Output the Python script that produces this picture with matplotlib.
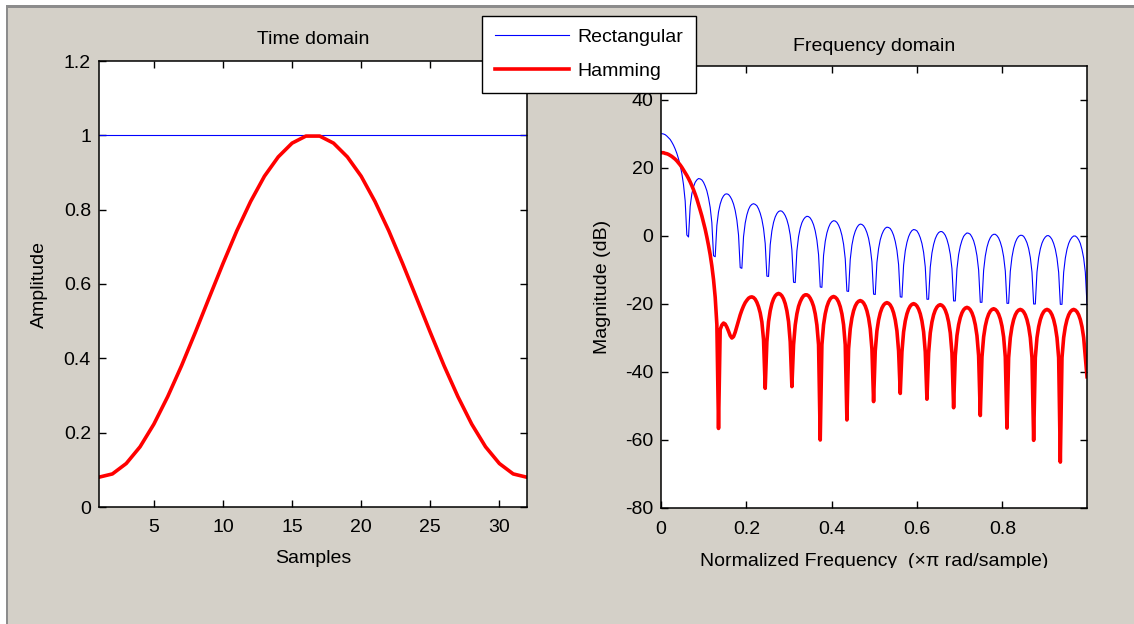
import numpy as np
import matplotlib
matplotlib.use("Agg")
import matplotlib.pyplot as plt
from matplotlib.patches import Rectangle
from matplotlib.lines import Line2D
from matplotlib.transforms import Bbox, TransformedBbox

plt.rcParams['font.family'] = ['Liberation Sans', 'DejaVu Sans']
plt.rcParams['axes.unicode_minus'] = False

# ---- data ----
names = ['Rectangular', 'Hamming']

# time domain, 32 samples
samples = np.arange(1, 33)
rect_time = [1.0, 1.0, 1.0, 1.0, 1.0, 1.0, 1.0, 1.0, 1.0, 1.0, 1.0, 1.0, 1.0, 1.0, 1.0, 1.0,
             1.0, 1.0, 1.0, 1.0, 1.0, 1.0, 1.0, 1.0, 1.0, 1.0, 1.0, 1.0, 1.0, 1.0, 1.0, 1.0]
hamm_time = [0.08, 0.089, 0.117, 0.162, 0.223, 0.297, 0.380, 0.470, 0.563, 0.655, 0.743,
             0.822, 0.890, 0.942, 0.979, 0.998, 0.998, 0.979, 0.942, 0.890, 0.822, 0.743,
             0.655, 0.563, 0.470, 0.380, 0.297, 0.223, 0.162, 0.117, 0.089, 0.08]

# frequency domain, 256 bins over [0, pi)
freq = (np.arange(256) + 0.5) / 256
rect_db = [
    30.1, 30.0, 29.8, 29.4, 28.9, 28.4, 27.6, 26.7, 25.6, 24.3, 22.7, 20.8, 18.4, 15.1, 10.3, 0.3,
    -0.3, 8.7, 12.4, 14.5, 15.8, 16.5, 16.9, 16.8, 16.5, 15.8, 14.7, 13.3, 11.2, 8.4, 3.9, -5.8,
    -6.1, 3.1, 7.1, 9.4, 10.9, 11.8, 12.3, 12.4, 12.2, 11.6, 10.7, 9.4, 7.5, 4.7, 0.3, -9.3,
    -9.5, -0.2, 3.8, 6.2, 7.8, 8.8, 9.3, 9.5, 9.3, 8.9, 8.0, 6.7, 4.9, 2.2, -2.2, -11.8,
    -11.9, -2.6, 1.5, 4.0, 5.6, 6.6, 7.2, 7.4, 7.3, 6.8, 6.0, 4.8, 3.0, 0.3, -4.1, -13.6,
    -13.7, -4.4, -0.2, 2.3, 3.9, 4.9, 5.5, 5.8, 5.7, 5.3, 4.5, 3.3, 1.5, -1.2, -5.5, -15.0,
    -15.1, -5.7, -1.6, 0.9, 2.5, 3.6, 4.2, 4.5, 4.4, 4.0, 3.2, 2.0, 0.2, -2.4, -6.7, -16.2,
    -16.3, -6.9, -2.7, -0.2, 1.4, 2.5, 3.2, 3.5, 3.4, 3.0, 2.2, 1.0, -0.7, -3.4, -7.6, -17.1,
    -17.2, -7.8, -3.7, -1.1, 0.5, 1.6, 2.3, 2.6, 2.5, 2.2, 1.4, 0.2, -1.6, -4.2, -8.4, -17.9,
    -18.0, -8.6, -4.4, -1.9, -0.2, 0.9, 1.6, 1.9, 1.8, 1.5, 0.7, -0.5, -2.2, -4.8, -9.1, -18.6,
    -18.6, -9.2, -5.0, -2.5, -0.8, 0.3, 1.0, 1.3, 1.3, 0.9, 0.2, -1.0, -2.8, -5.4, -9.6, -19.1,
    -19.1, -9.7, -5.5, -3.0, -1.3, -0.1, 0.5, 0.9, 0.8, 0.5, -0.3, -1.4, -3.2, -5.8, -10.0, -19.5,
    -19.5, -10.1, -5.9, -3.3, -1.6, -0.5, 0.2, 0.5, 0.5, 0.1, -0.6, -1.8, -3.5, -6.1, -10.3, -19.8,
    -19.8, -10.4, -6.2, -3.6, -1.9, -0.8, -0.1, 0.2, 0.2, -0.1, -0.9, -2.0, -3.7, -6.3, -10.6, -20.0,
    -20.0, -10.6, -6.4, -3.8, -2.1, -1.0, -0.3, 0.1, 0.1, -0.3, -1.0, -2.2, -3.9, -6.5, -10.7, -20.1,
    -20.1, -10.7, -6.5, -3.9, -2.2, -1.1, -0.4, 0.0, 0.0, -0.4, -1.1, -2.2, -4.0, -6.5, -10.7, -20.2,
]
hamm_db = [
    24.5, 24.5, 24.3, 24.2, 24.0, 23.7, 23.4, 23.0, 22.6, 22.1, 21.5, 20.9, 20.2, 19.4, 18.6, 17.8,
    16.9, 15.9, 14.8, 13.6, 12.3, 10.9, 9.3, 7.6, 5.9, 4.0, 2.0, -0.3, -2.8, -5.5, -8.8, -12.8,
    -18.0, -26.0, -56.6, -27.5, -26.2, -25.6, -25.9, -26.8, -28.0, -29.3, -30.0, -29.6, -28.3, -26.6, -24.8, -23.2,
    -21.8, -20.6, -19.6, -18.9, -18.3, -18.0, -17.9, -18.1, -18.6, -19.5, -20.8, -22.6, -25.3, -30.5, -44.8, -31.1,
    -25.2, -22.0, -19.9, -18.5, -17.6, -17.1, -16.9, -17.1, -17.6, -18.5, -19.9, -22.0, -25.2, -31.1, -44.3, -32.0,
    -26.2, -22.9, -20.7, -19.3, -18.3, -17.6, -17.3, -17.3, -17.6, -18.3, -19.3, -20.7, -22.9, -26.2, -32.0, -60.0,
    -32.0, -26.1, -22.9, -20.8, -19.4, -18.5, -18.0, -17.8, -18.0, -18.5, -19.4, -20.8, -22.9, -26.1, -32.0, -54.1,
    -33.2, -27.3, -24.1, -22.0, -20.6, -19.7, -19.2, -19.0, -19.2, -19.7, -20.6, -22.0, -24.1, -27.3, -33.2, -48.7,
    -33.8, -27.9, -24.7, -22.6, -21.2, -20.3, -19.8, -19.6, -19.8, -20.3, -21.2, -22.6, -24.7, -27.9, -33.8, -46.3,
    -34.1, -28.2, -25.0, -22.9, -21.5, -20.6, -20.1, -19.9, -20.1, -20.6, -21.5, -22.9, -25.0, -28.2, -34.1, -48.0,
    -34.4, -28.5, -25.3, -23.2, -21.8, -20.9, -20.4, -20.2, -20.4, -20.9, -21.8, -23.2, -25.3, -28.5, -34.4, -50.5,
    -35.2, -29.3, -26.1, -24.0, -22.6, -21.7, -21.2, -21.0, -21.2, -21.7, -22.6, -24.0, -26.1, -29.3, -35.2, -52.8,
    -35.6, -29.7, -26.5, -24.4, -23.0, -22.1, -21.6, -21.4, -21.6, -22.1, -23.0, -24.4, -26.5, -29.7, -35.6, -56.5,
    -35.8, -29.9, -26.7, -24.6, -23.2, -22.3, -21.8, -21.6, -21.8, -22.3, -23.2, -24.6, -26.7, -29.9, -35.8, -60.1,
    -35.8, -29.9, -26.7, -24.6, -23.2, -22.3, -21.8, -21.6, -21.8, -22.3, -23.2, -24.6, -26.7, -29.9, -35.8, -66.5,
    -35.8, -29.9, -26.7, -24.6, -23.2, -22.3, -21.8, -21.6, -21.8, -22.3, -23.2, -24.6, -26.7, -29.9, -35.8, -41.4,
]

t_xticks = [5, 10, 15, 20, 25, 30]
t_yticks = [0, 0.2, 0.4, 0.6, 0.8, 1.0, 1.2]
t_ylabels = ['0', '0.2', '0.4', '0.6', '0.8', '1', '1.2']
f_xticks = [0, 0.2, 0.4, 0.6, 0.8]
f_xlabels = ['0', '0.2', '0.4', '0.6', '0.8']
f_yticks = [-80, -60, -40, -20, 0, 20, 40]

# ---- figure ----
W, H = 1134, 624
BG = '#d4d0c8'
BLUE = '#0000ff'
RED = '#ff0000'
FS = 14

fig = plt.figure(figsize=(W / 100, H / 100), dpi=100, facecolor=BG)

def px_box(l, t, r, b):
    # pixel box (top-left origin) -> figure fraction rect
    return [l / W, 1 - b / H, (r - l) / W, (b - t) / H]

# window frame look
fig.add_artist(Rectangle((0, 1 - 5 / H), 1, 5 / H, transform=fig.transFigure,
                         facecolor='white', edgecolor='none'))
fig.add_artist(Rectangle((0, 0), 6 / W, 1, transform=fig.transFigure,
                         facecolor='white', edgecolor='none'))
fig.add_artist(Rectangle((6 / W, 1 - 7.5 / H), 1, 2.5 / H, transform=fig.transFigure,
                         facecolor='#8c8c8c', edgecolor='none'))
fig.add_artist(Rectangle((6 / W, 0), 2 / W, 1 - 5 / H, transform=fig.transFigure,
                         facecolor='#8c8c8c', edgecolor='none'))

ax1 = fig.add_axes(px_box(98.6, 61, 527, 507))
ax2 = fig.add_axes(px_box(661, 66, 1087, 508))

ax1.plot(samples, rect_time, color=BLUE, lw=0.8)
ax1.plot(samples, hamm_time, color=RED, lw=2.6)
ax2.plot(freq, rect_db, color=BLUE, lw=0.8)
ax2.plot(freq, hamm_db, color=RED, lw=2.6)

ax1.set_xlim(1, 32)
ax1.set_ylim(0, 1.2)
ax1.set_xticks(t_xticks)
ax1.set_yticks(t_yticks)
ax1.set_yticklabels(t_ylabels)

ax2.set_xlim(0, freq[-1])
ax2.set_ylim(-80, 50)
ax2.set_xticks(f_xticks)
ax2.set_xticklabels(f_xlabels)
ax2.set_yticks(f_yticks)

for ax in (ax1, ax2):
    ax.set_facecolor('white')
    for s in ax.spines.values():
        s.set_linewidth(1.1)
        s.set_color('black')
    ax.tick_params(direction='in', length=5, width=1, top=True, right=True,
                   labelsize=FS, colors='black')
    ax.tick_params(axis='x', pad=9)
    ax.tick_params(axis='y', pad=5.5)

ax1.set_title('Time domain', fontsize=FS, pad=12.5)
ax2.set_title('Frequency domain', fontsize=FS, pad=10.5)
ax1.set_xlabel('Samples', fontsize=FS, labelpad=9.5)
ax1.set_ylabel('Amplitude', fontsize=FS, labelpad=11)
ax2.set_xlabel('Normalized Frequency  (\u00d7\u03c0 rad/sample)', fontsize=FS, labelpad=11)
ax2.set_ylabel('Magnitude (dB)', fontsize=FS, labelpad=10)

# the frequency label is cut off at the bottom in the original
lab = ax2.xaxis.label
lab.set_clip_on(True)
lab.set_clip_box(TransformedBbox(Bbox.from_extents(0, 1 - 568 / H, 1, 1), fig.transFigure))

handles = [Line2D([], [], color=BLUE, lw=0.8), Line2D([], [], color=RED, lw=2.6)]
leg = fig.legend(handles, names, loc='upper left',
                 bbox_to_anchor=(482.4 / W, 1 - 15.5 / H),
                 fancybox=False, framealpha=1, edgecolor='black', facecolor='white',
                 borderpad=0.66, handlelength=3.8, handletextpad=0.4,
                 labelspacing=0.86, fontsize=FS, borderaxespad=0)
leg.get_frame().set_linewidth(1.0)

fig.savefig('out.png', dpi=100, facecolor=BG)
